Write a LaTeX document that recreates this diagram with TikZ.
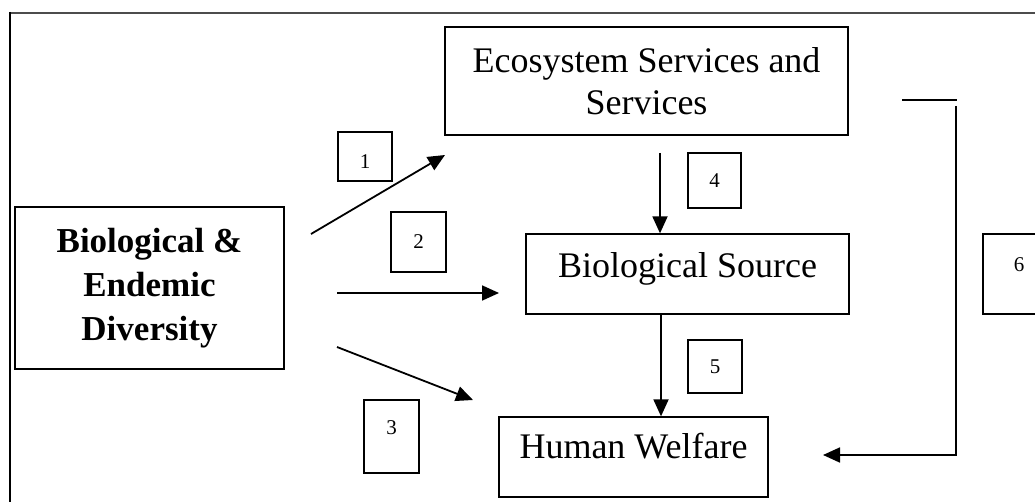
\documentclass[tikz,border=0pt]{standalone}
\usepackage{fontspec}
\setmainfont{Liberation Serif}
\usetikzlibrary{arrows.meta}
\begin{document}
\begin{tikzpicture}[
            x=1pt, y=-1pt,
            box/.style={draw, line width=1.3pt, inner sep=0pt, align=center,
                    font=\fontsize{36}{42}\selectfont},
            numbox/.style={draw, line width=1.3pt, inner sep=0pt,
                    font=\fontsize{21}{24}\selectfont},
            arr/.style={line width=1.8pt, -{Triangle[length=17pt,width=15pt]}}
        ]
        \useasboundingbox (0,0) rectangle (1035,502);
        % frame
        \draw[line width=2pt, black!70] (10,13) -- (1035,13);
        \draw[line width=1.2pt] (10,12) -- (10,502);

        % main boxes
        \node[box, minimum width=269pt, minimum height=162pt,
              font=\fontsize{35}{44}\selectfont\bfseries] (div) at (149.5,288)
            {Biological \&\\Endemic\\Diversity};
        \node[box, minimum width=403pt, minimum height=108pt] (eco) at (646.5,81)
            {Ecosystem Services and\\Services};
        \node[box, minimum width=323pt, minimum height=80pt,
              text height=24pt, text depth=16pt] (bio) at (687.5,274)
            {Biological Source};
        \node[box, minimum width=269pt, minimum height=80pt,
              text height=24pt, text depth=22pt] (hw) at (633.5,457)
            {Human Welfare};

        % numbered boxes
        \node[numbox, minimum width=54pt, minimum height=49pt,
              text height=25pt, text depth=0pt] (n1) at (365,156.5) {1};
        \node[numbox, minimum width=55pt, minimum height=60pt] (n2) at (418.5,242) {2};
        \node[numbox, minimum width=55pt, minimum height=73pt,
              text height=14pt, text depth=19pt] (n3) at (391.5,436.5) {3};
        \node[numbox, minimum width=53pt, minimum height=55pt] (n4) at (714.5,180.5) {4};
        \node[numbox, minimum width=54pt, minimum height=53pt] (n5) at (715,366.5) {5};
        \node[numbox, minimum width=72pt, minimum height=80pt,
              text height=14pt, text depth=18pt] (n6) at (1019,274) {6};

        % free ends of the connectors
        \coordinate (s1) at (311,234);
        \coordinate (e1) at (445,155);
        \coordinate (s2) at (337,293);
        \coordinate (e2) at (499,293);
        \coordinate (s3) at (337,347);
        \coordinate (e3) at (473,400);
        \coordinate (s4) at (660,153);
        \coordinate (c5) at (661,0);
        \coordinate (t6) at (902,100);
        \coordinate (u6) at (957,100);
        \coordinate (v6) at (956,106);
        \coordinate (w6) at (956,455);
        \coordinate (e6) at (823,455);

        % connectors
        \draw[arr] (s1) -- (e1);
        \draw[arr] (s2) -- (e2);
        \draw[arr] (s3) -- (e3);
        \draw[arr] (s4) -- (s4 |- bio.north);
        \draw[arr] (bio.south -| c5) -- (hw.north -| c5);
        \draw[line width=1.5pt] (t6) -- (u6);
        \draw[arr] (v6) -- (w6) -- (e6);
    \end{tikzpicture}
\end{document}
